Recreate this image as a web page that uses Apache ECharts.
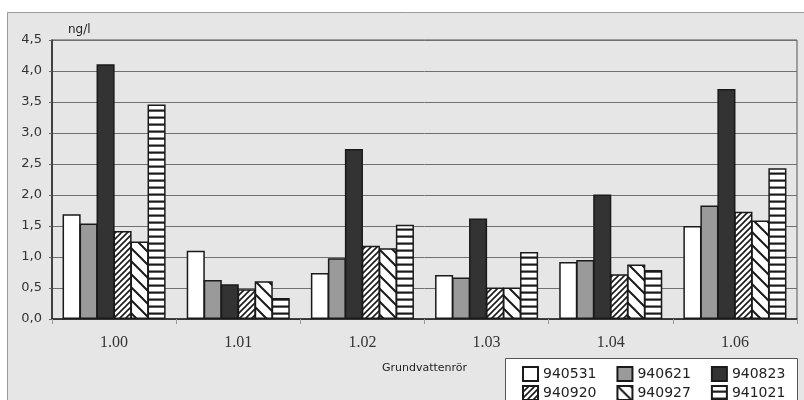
<!DOCTYPE html>
<html>
<head>
<meta charset="utf-8">
<script src="https://cdn.jsdelivr.net/npm/echarts@6/dist/echarts.min.js"></script>
<style>
html, body { margin: 0; padding: 0; background: #fff; }
#chart { width: 804px; height: 400px; }
</style>
</head>
<body>
<div id="chart"></div>
<script>
// Grundvattenrör, ng/l
var categories = ['1.00', '1.01', '1.02', '1.03', '1.04', '1.06'];
var seriesNames = ['940531', '940621', '940823', '940920', '940927', '941021'];
var s940531 = [1.69, 1.10, 0.74, 0.71, 0.92, 1.50];
var s940621 = [1.54, 0.63, 0.98, 0.67, 0.95, 1.83];
var s940823 = [4.11, 0.56, 2.74, 1.62, 2.01, 3.71];
var s940920 = [1.42, 0.48, 1.18, 0.51, 0.72, 1.73];
var s940927 = [1.25, 0.61, 1.14, 0.51, 0.88, 1.59];
var s941021 = [3.46, 0.34, 1.52, 1.08, 0.79, 2.43];
var seriesValues = [s940531, s940621, s940823, s940920, s940927, s941021];

// fill patterns (canvas)
function makePattern(type) {
    var c = document.createElement('canvas');
    var ctx = c.getContext('2d');
    var s;
    if(type == 'slash') {
        s = 6;
        c.width = c.height = s;
        ctx.fillStyle = '#fff';
        ctx.fillRect(0, 0, s, s);
        ctx.strokeStyle = '#1a1a1a';
        ctx.lineWidth = 1.6;
        ctx.beginPath();
        ctx.moveTo(0, s); ctx.lineTo(s, 0);
        ctx.moveTo(-1, 1); ctx.lineTo(1, -1);
        ctx.moveTo(s - 1, s + 1); ctx.lineTo(s + 1, s - 1);
        ctx.stroke();
    }
    else if(type == 'backslash') {
        s = 13;
        c.width = c.height = s;
        ctx.fillStyle = '#fff';
        ctx.fillRect(0, 0, s, s);
        ctx.strokeStyle = '#1a1a1a';
        ctx.lineWidth = 2;
        ctx.beginPath();
        ctx.moveTo(0, 0); ctx.lineTo(s, s);
        ctx.moveTo(s - 1, -1); ctx.lineTo(s + 1, 1);
        ctx.moveTo(-1, s - 1); ctx.lineTo(1, s + 1);
        ctx.stroke();
    }
    else {
        c.width = 4;
        c.height = 7;
        ctx.fillStyle = '#fff';
        ctx.fillRect(0, 0, 4, 7);
        ctx.fillStyle = '#1a1a1a';
        ctx.fillRect(0, 4.5, 4, 2.2);
    }
    return { image: c, repeat: 'repeat' };
}

var fills = [
    '#ffffff',
    '#9a9a9a',
    '#333333',
    makePattern('slash'),
    makePattern('backslash'),
    makePattern('horizontal')
];

var series = [];
for(var i = 0; i < seriesNames.length; i++) {
    series.push({
        name: seriesNames[i],
        type: 'bar',
        data: seriesValues[i],
        barGap: '-6%',
        barCategoryGap: '17%',
        itemStyle: {
            color: fills[i],
            borderColor: '#1a1a1a',
            borderWidth: 1.5
        }
    });
}

var legendText = { fontFamily: 'DejaVu Sans', fontSize: 14, color: '#222' };

var chart = echarts.init(document.getElementById('chart'), null, { renderer: 'canvas' });
var option = {
    backgroundColor: '#ffffff',
    animation: false,
    graphic: [
        {
            type: 'rect',
            z: -10,
            shape: { x: 7.5, y: 12.5, width: 820, height: 420 },
            style: { fill: '#e6e6e6', stroke: '#9a9a9a', lineWidth: 1 }
        },
        {
            type: 'rect',
            z: 3,
            shape: { x: 505.5, y: 358.5, width: 292, height: 60 },
            style: { fill: '#ffffff', stroke: '#555', lineWidth: 1 }
        }
    ],
    grid: {
        left: 52,
        right: 7,
        top: 40,
        bottom: 81,
        show: true,
        backgroundColor: 'transparent',
        borderColor: '#555',
        borderWidth: 1
    },
    legend: [
        {
            data: seriesNames.slice(0, 3),
            icon: 'rect',
            left: 517,
            top: 361,
            itemWidth: 15,
            itemHeight: 14,
            itemGap: 20,
            textStyle: legendText
        },
        {
            data: seriesNames.slice(3, 6),
            icon: 'rect',
            left: 517,
            top: 380,
            itemWidth: 15,
            itemHeight: 14,
            itemGap: 20,
            textStyle: legendText
        }
    ],
    xAxis: {
        type: 'category',
        data: categories,
        name: 'Grundvattenrör',
        nameLocation: 'middle',
        nameGap: 44,
        nameTextStyle: { fontFamily: 'DejaVu Sans', fontSize: 11, color: '#222' },
        axisLine: { lineStyle: { color: '#222', width: 1.5 } },
        axisTick: { show: true, length: 5, lineStyle: { color: '#999' } },
        axisLabel: { fontFamily: 'Liberation Serif', fontSize: 16, color: '#333', margin: 16 }
    },
    yAxis: {
        type: 'value',
        min: 0,
        max: 4.5,
        interval: 0.5,
        name: 'ng/l',
        nameLocation: 'end',
        nameGap: 4,
        nameTextStyle: { fontFamily: 'DejaVu Sans', fontSize: 12, color: '#222', align: 'left', padding: [0, 0, 0, 16] },
        axisLine: { show: true, lineStyle: { color: '#222', width: 1.5 } },
        axisTick: { show: true, length: 3, lineStyle: { color: '#666' } },
        axisLabel: {
            fontFamily: 'DejaVu Sans',
            fontSize: 13,
            color: '#333',
            margin: 10,
            formatter: function(v) { return v.toFixed(1).replace('.', ','); }
        },
        splitLine: { lineStyle: { color: '#707070', width: 1 } }
    },
    series: series
};
chart.setOption(option);
</script>
</body>
</html>
